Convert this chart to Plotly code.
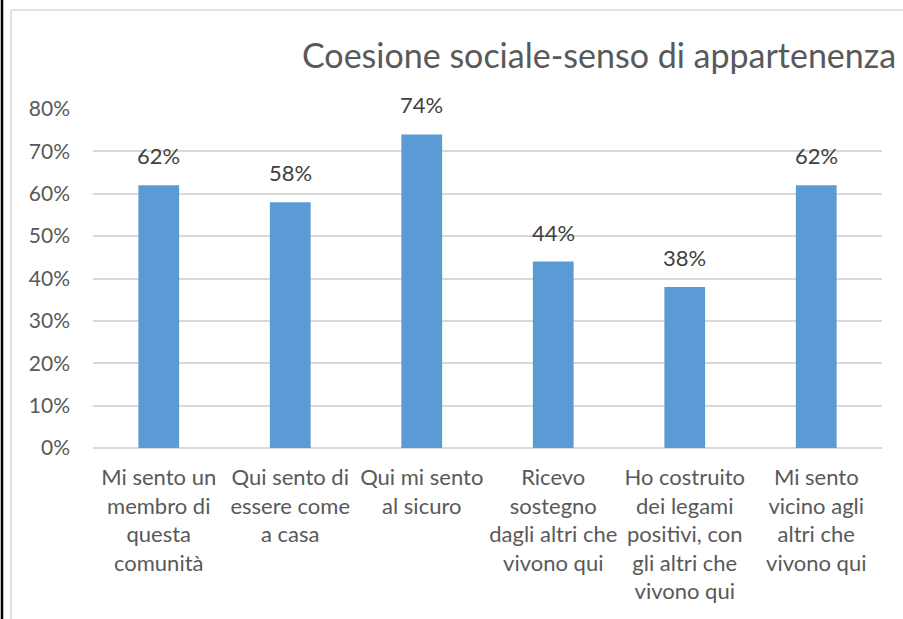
import plotly.graph_objects as go

categories = [
    "Mi sento un<br>membro di<br>questa<br>comunità",
    "Qui sento di<br>essere come<br>a casa",
    "Qui mi sento<br>al sicuro",
    "Ricevo<br>sostegno<br>dagli altri che<br>vivono qui",
    "Ho costruito<br>dei legami<br>positivi, con<br>gli altri che<br>vivono qui",
    "Mi sento<br>vicino agli<br>altri che<br>vivono qui",
]
values = [0.62, 0.58, 0.74, 0.44, 0.38, 0.62]
labels = ["62%", "58%", "74%", "44%", "38%", "62%"]
tick_vals = [0, 0.1, 0.2, 0.3, 0.4, 0.5, 0.6, 0.7, 0.8]
tick_text = ["0%", "10%", "20%", "30%", "40%", "50%", "60%", "70%", "80%"]
title = "Coesione sociale-senso di appartenenza"

W, H = 903, 619
L, R, T, B = 93, 21, 109, 171
pw, ph = W - L - R, H - T - B

def px(x):
    return (x - L) / pw

def py(y):
    return (H - B - y) / ph

FONT = "Lato, Carlito, sans-serif"

fig = go.Figure(go.Bar(
    x=categories, y=values,
    marker=dict(color="#5B9BD5", line=dict(width=0)),
    cliponaxis=False,
))

annotations = [dict(
    x=c, y=v, text=t, xref="x", yref="y", showarrow=False,
    xanchor="center", yanchor="bottom", yshift=14,
    font=dict(size=22, color="#404040", family=FONT))
    for c, v, t in zip(categories, values, labels)]

annotations.append(dict(
    text=title, xref="paper", yref="paper", x=px(599), y=py(54),
    xanchor="center", yanchor="middle", showarrow=False,
    font=dict(size=34, color="#595959", family=FONT)))

fig.update_layout(
    width=W, height=H,
    margin=dict(l=L, r=R, t=T, b=B, pad=0),
    paper_bgcolor="white", plot_bgcolor="white",
    bargap=0.69,
    showlegend=False,
    font=dict(family=FONT, color="#595959"),
    xaxis=dict(tickfont=dict(size=22, color="#595959"), showgrid=False,
               showline=False, ticks="", ticklen=0, ticklabelstandoff=14),
    yaxis=dict(range=[0, 0.8], tickvals=tick_vals, ticktext=tick_text,
               tickfont=dict(size=21, color="#595959"),
               gridcolor="#D9D9D9", gridwidth=1.5, zeroline=True,
               zerolinecolor="#D9D9D9", zerolinewidth=1.5,
               showline=False, ticks="", ticklabelstandoff=22),
    annotations=annotations,
    shapes=[
        dict(type="line", xref="paper", yref="paper", x0=px(11), x1=px(920),
             y0=py(10), y1=py(10), line=dict(color="#D9D9D9", width=1.5)),
        dict(type="line", xref="paper", yref="paper", x0=px(11), x1=px(11),
             y0=py(10), y1=py(640), line=dict(color="#D9D9D9", width=1.5)),
        dict(type="line", xref="paper", yref="paper", x0=px(2), x1=px(2),
             y0=py(0), y1=py(640), line=dict(color="#000000", width=2.5)),
    ],
)

fig.write_html("out.html")
